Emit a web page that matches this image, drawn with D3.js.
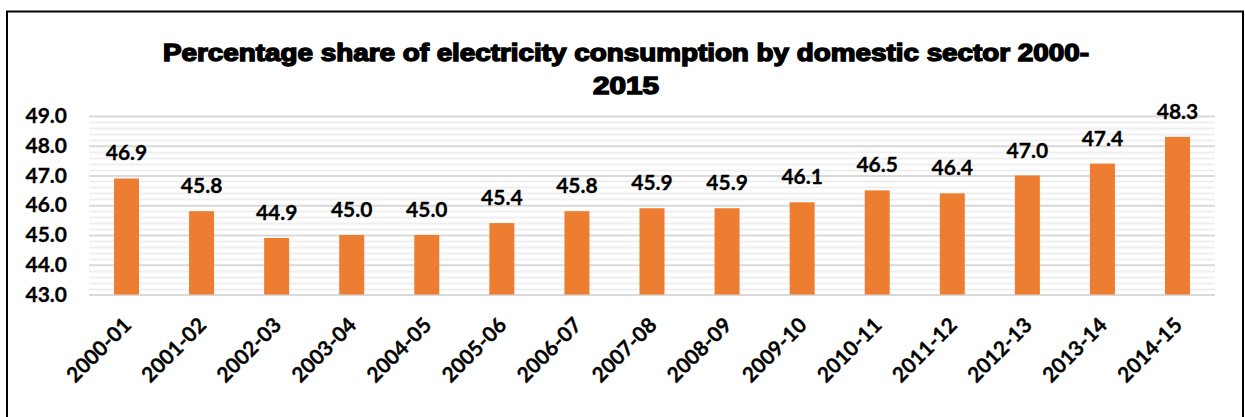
<!DOCTYPE html>
<html>
<head>
<meta charset="utf-8">
<script src="https://cdn.jsdelivr.net/npm/d3@7/dist/d3.min.js"></script>
<style>
  html, body { margin: 0; padding: 0; background: #fff; }
  svg { display: block; }
</style>
</head>
<body>
<svg id="chart" width="1245" height="417"></svg>
<script>
// Financial years and domestic-sector share of electricity consumption (%)
const years = ["2000-01","2001-02","2002-03","2003-04","2004-05","2005-06","2006-07","2007-08",
               "2008-09","2009-10","2010-11","2011-12","2012-13","2013-14","2014-15"];
const shares = [46.9, 45.8, 44.9, 45.0, 45.0, 45.4, 45.8, 45.9, 45.9, 46.1, 46.5, 46.4, 47.0, 47.4, 48.3];
const yTicks = [43, 44, 45, 46, 47, 48, 49];
const titleLines = ["Percentage share of electricity consumption by domestic sector 2000-", "2015"];

const svg = d3.select("#chart");
const plot = { left: 89, right: 1215, top: 116, bottom: 294.5 };
const labelFont = "Lato, 'Liberation Sans', sans-serif";

// Frame around the chart
svg.append("rect")
  .attr("x", 7).attr("y", 11.5)
  .attr("width", 1236).attr("height", 420)
  .attr("fill", "none").attr("stroke", "#000").attr("stroke-width", 2);

const x = d3.scaleBand().domain(years).range([plot.left, plot.right]).paddingInner(0.667).paddingOuter(0.333);
const y = d3.scaleLinear().domain([43, 49]).range([plot.bottom, plot.top]);

// Minor gridlines every 0.2
const minor = d3.range(43, 49.001, 0.2).filter(v => Math.abs(v - Math.round(v)) > 1e-6);
svg.append("g").selectAll("line").data(minor).join("line")
  .attr("x1", plot.left).attr("x2", plot.right)
  .attr("y1", d => Math.round(y(d)) + 0.5).attr("y2", d => Math.round(y(d)) + 0.5)
  .attr("stroke", "#efefef").attr("stroke-width", 2);

// Major gridlines and y axis labels
const yAxis = d3.axisLeft(y).tickValues(yTicks).tickFormat(d3.format(".1f"))
  .tickSize(-(plot.right - plot.left)).tickPadding(22);
const gy = svg.append("g").attr("transform", `translate(${plot.left},0)`).call(yAxis);
gy.select(".domain").remove();
gy.selectAll(".tick line").attr("stroke", "#d9d9d9").attr("stroke-width", 2);
gy.selectAll(".tick text")
  .attr("font-family", labelFont).attr("font-weight", "bold")
  .attr("font-size", 21).attr("fill", "#000")
  .attr("stroke", "#000").attr("stroke-width", 0.3);

// Bars
svg.append("g").selectAll("rect").data(years).join("rect")
  .attr("x", d => x(d))
  .attr("width", x.bandwidth())
  .attr("y", (d, i) => y(shares[i]))
  .attr("height", (d, i) => y(43) - y(shares[i]))
  .attr("fill", "#ED7D31");

// Value labels above bars
svg.append("g").selectAll("text").data(years).join("text")
  .attr("x", d => x(d) + x.bandwidth() / 2)
  .attr("y", (d, i) => y(shares[i]) - 18)
  .attr("text-anchor", "middle")
  .attr("font-family", labelFont).attr("font-weight", "bold")
  .attr("font-size", 21).attr("fill", "#000")
  .attr("stroke", "#000").attr("stroke-width", 0.3)
  .text((d, i) => shares[i].toFixed(1));

// Rotated category labels
const xAxis = d3.axisBottom(x).tickSize(0).tickPadding(0);
const gx = svg.append("g").attr("transform", `translate(0,${plot.bottom})`).call(xAxis);
gx.select(".domain").remove();
gx.selectAll(".tick text")
  .attr("font-family", labelFont).attr("font-weight", "bold")
  .attr("font-size", 21).attr("fill", "#000")
  .attr("stroke", "#000").attr("stroke-width", 0.3)
  .attr("text-anchor", "end")
  .attr("dy", null)
  .attr("transform", "translate(6,32) rotate(-45)");

// Title
const title = svg.append("g").attr("font-family", "'Liberation Sans', Arial, sans-serif")
  .attr("font-weight", "bold").attr("font-size", 23).attr("fill", "#000")
  .attr("stroke", "#000").attr("stroke-width", 1.4).attr("text-anchor", "middle");
title.append("text").attr("x", 626).attr("y", 61)
  .attr("textLength", 926).attr("lengthAdjust", "spacingAndGlyphs")
  .text(titleLines[0]);
title.append("text").attr("x", 626).attr("y", 94)
  .attr("textLength", 66).attr("lengthAdjust", "spacingAndGlyphs")
  .text(titleLines[1]);
</script>
</body>
</html>
